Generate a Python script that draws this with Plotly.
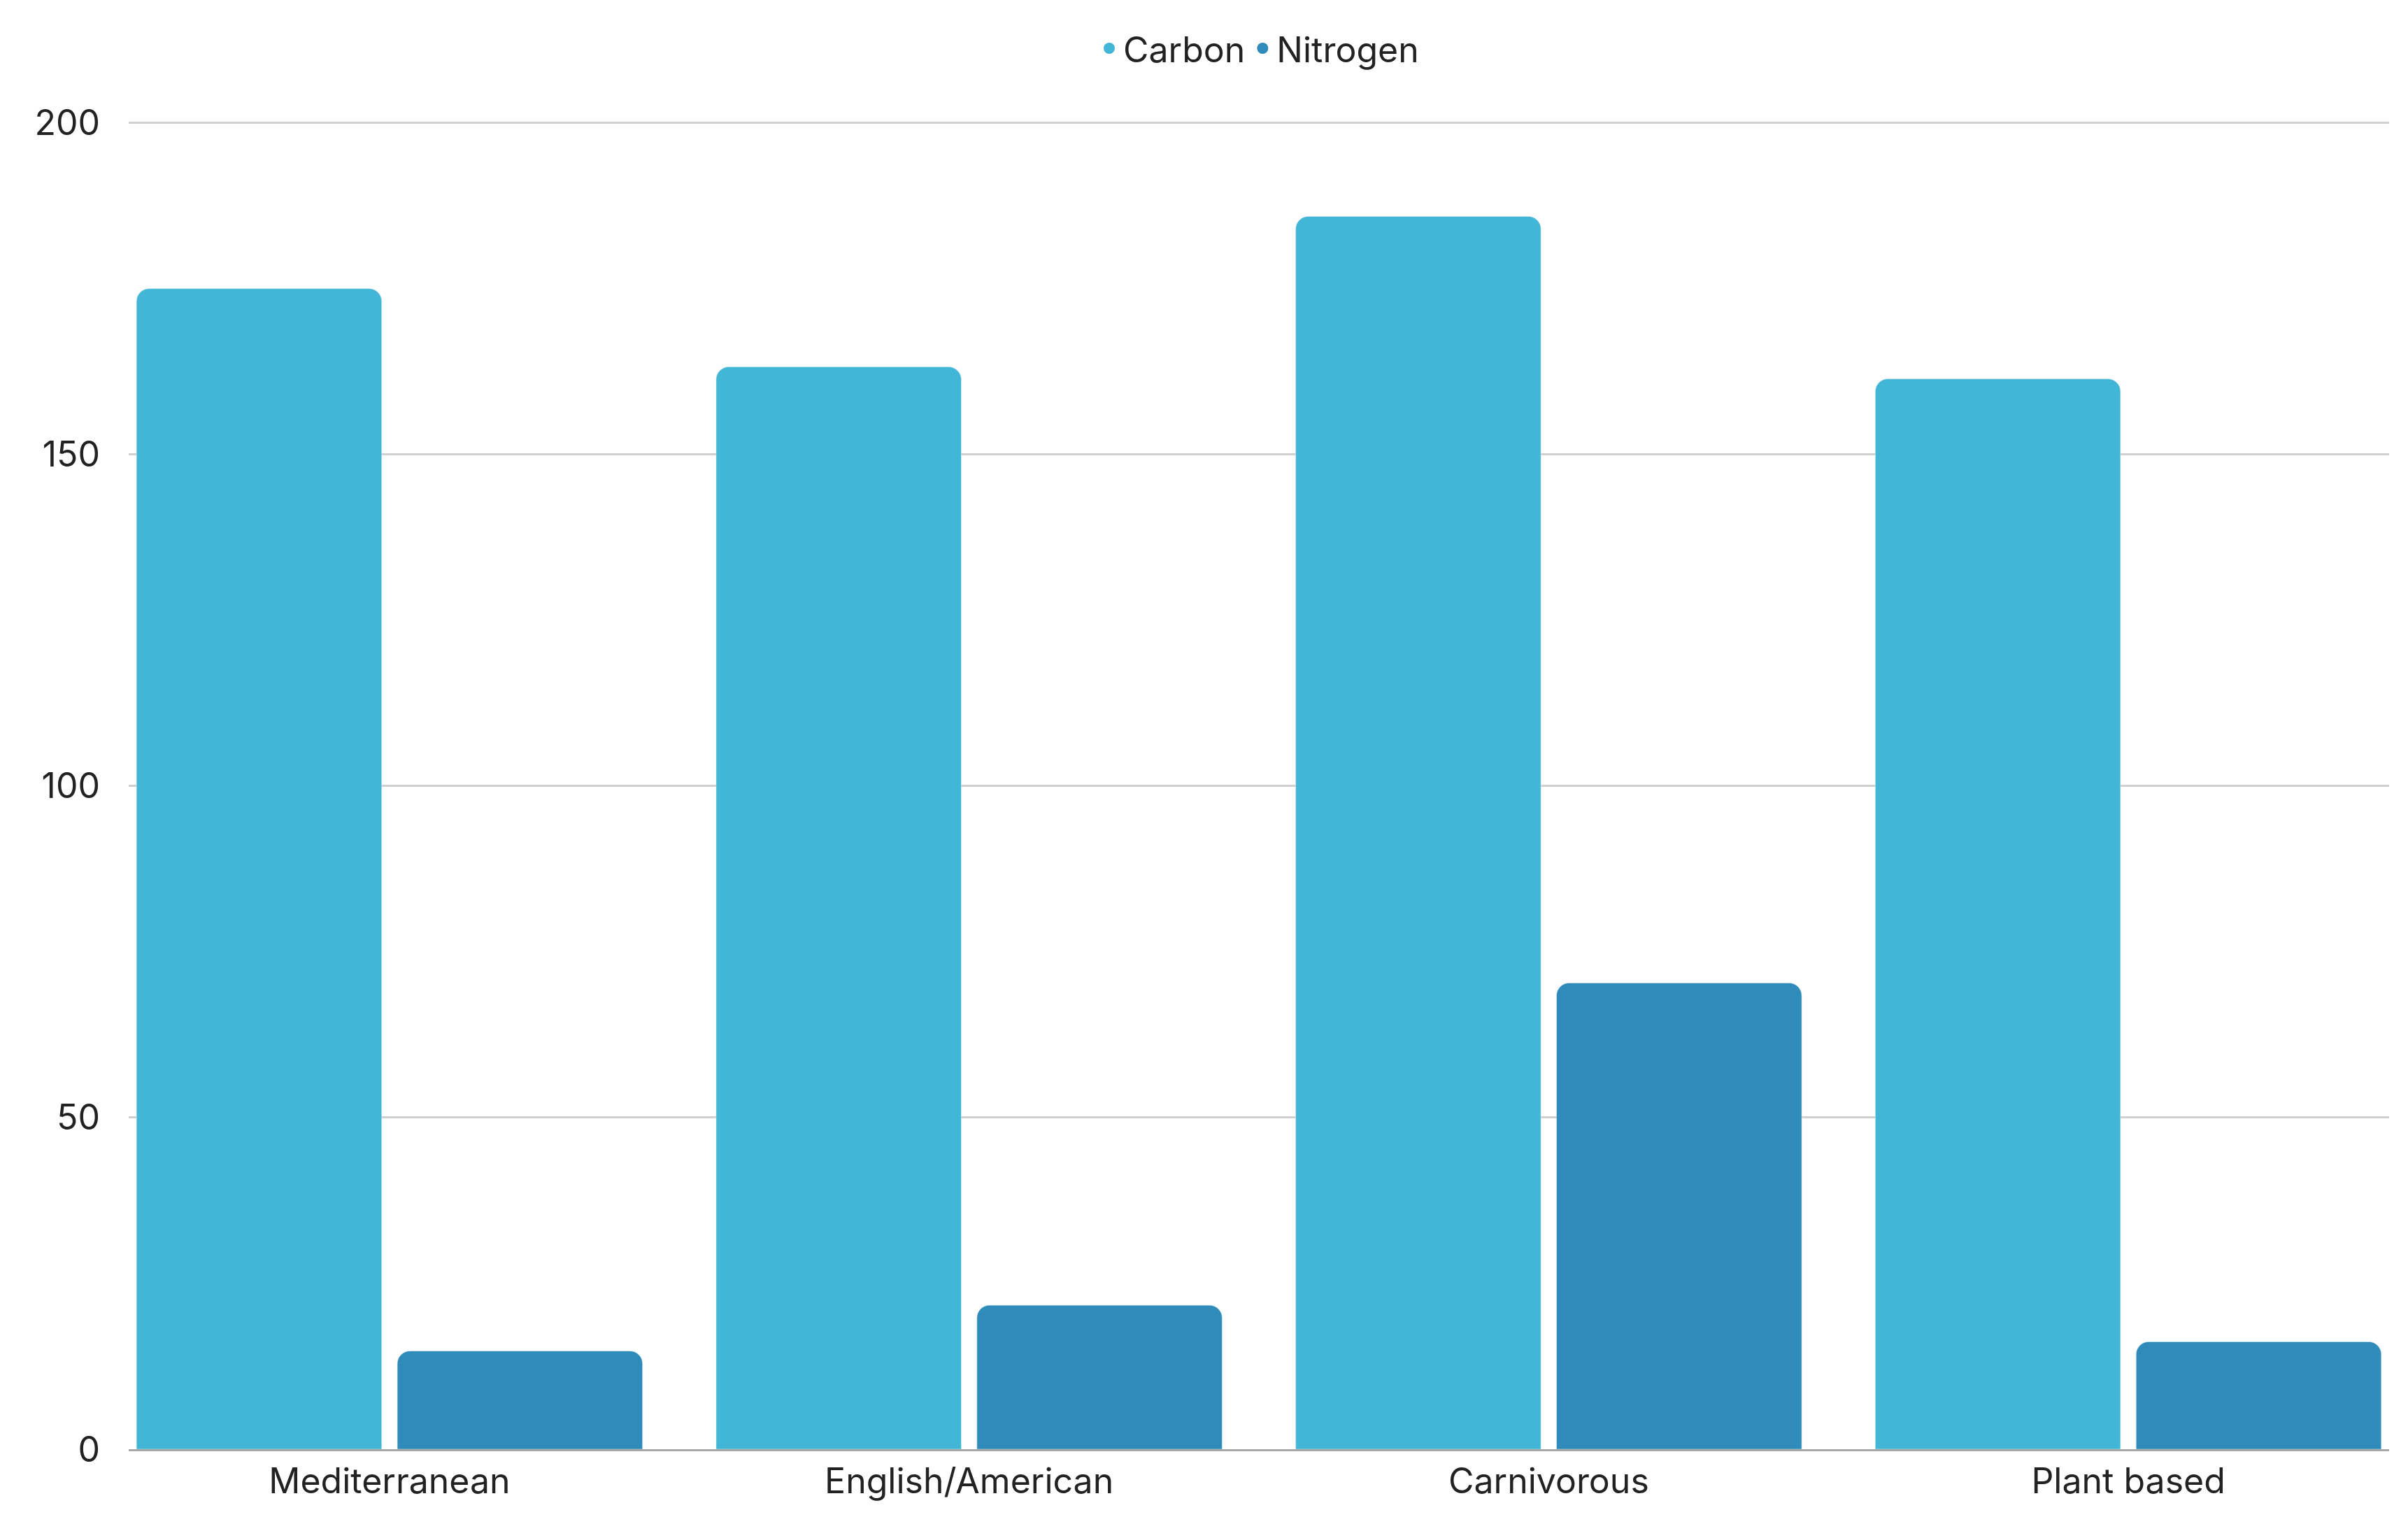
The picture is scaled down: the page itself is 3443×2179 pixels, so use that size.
import plotly.graph_objects as go

categories = ["Mediterranean", "English/American", "Carnivorous", "Plant based"]
carbon = [175, 163.2, 185.9, 161.4]
nitrogen = [14.8, 21.7, 70.3, 16.2]
c_col, n_col = "#42B6D6", "#2E8BBA"

fig = go.Figure()
fig.add_bar(x=categories, y=carbon, name="Carbon", marker_color=c_col, showlegend=False)
fig.add_bar(x=categories, y=nitrogen, name="Nitrogen", marker_color=n_col, showlegend=False)
for nm, col in [("Carbon", c_col), ("Nitrogen", n_col)]:
    fig.add_scatter(x=[None], y=[None], mode="markers", name=nm,
                    marker=dict(symbol="circle", size=52, color=col))

fig.update_layout(
    width=3443, height=2179,
    paper_bgcolor="white", plot_bgcolor="white",
    margin=dict(l=176, r=35, t=162, b=115, autoexpand=False),
    barmode="group", bargap=0.1, bargroupgap=0.06, barcornerradius=18,
    font=dict(family="Inter, Lato, sans-serif", size=48, color="#222"),
    legend=dict(orientation="h", x=0.5, xanchor="center", yref="container", y=0.972, yanchor="middle",
                font=dict(size=50)),
)
fig.update_xaxes(range=[-0.45, 3.45], showline=True, linecolor="#aaaaaa", linewidth=3,
                 ticks="", tickfont=dict(size=50))
fig.update_yaxes(range=[0, 200.6], tickvals=[0, 50, 100, 150, 200], showgrid=True,
                 gridcolor="#d0d0d0", gridwidth=3, zeroline=False, ticks="",
                 tickfont=dict(size=50), ticklabelstandoff=40)
fig.write_html("out.html")
